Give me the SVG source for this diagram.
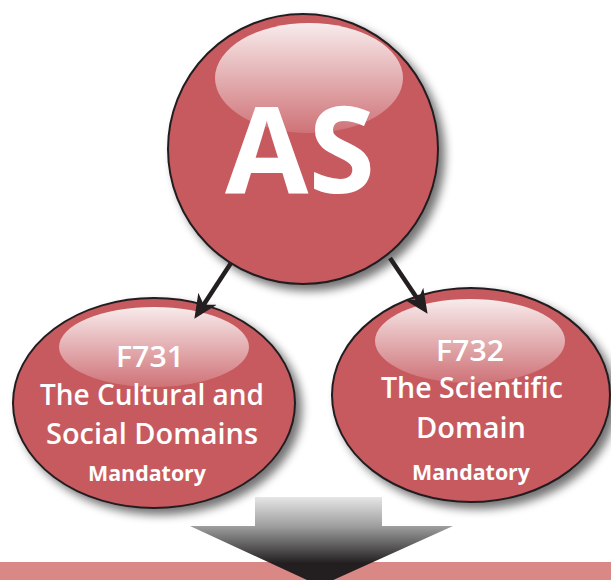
<svg xmlns="http://www.w3.org/2000/svg" width="611" height="580" viewBox="0 0 611 580">
  <defs>
    <filter id="shadow" x="-20%" y="-20%" width="150%" height="150%">
      <feGaussianBlur in="SourceAlpha" stdDeviation="5"/>
      <feOffset dx="6" dy="6" result="b"/>
      <feComponentTransfer><feFuncA type="linear" slope="0.55"/></feComponentTransfer>
      <feMerge><feMergeNode/><feMergeNode in="SourceGraphic"/></feMerge>
    </filter>
    <linearGradient id="gloss" x1="0" y1="0" x2="0" y2="1">
      <stop offset="0" stop-color="#ffffff" stop-opacity="0.88"/>
      <stop offset="1" stop-color="#ffffff" stop-opacity="0.15"/>
    </linearGradient>
    <linearGradient id="bigArrow" gradientUnits="userSpaceOnUse" x1="0" y1="497" x2="0" y2="575">
      <stop offset="0" stop-color="#e6e6e6"/>
      <stop offset="0.38" stop-color="#9d9d9d"/>
      <stop offset="0.85" stop-color="#231f20"/>
      <stop offset="1" stop-color="#231f20"/>
    </linearGradient>
    <marker id="arrow" viewBox="0 -12 25 24" refX="11" refY="0" markerWidth="25" markerHeight="24" markerUnits="userSpaceOnUse" orient="auto">
      <path d="M24,0 L0,-11 L7,0 L0,11 Z" fill="#231f20"/>
    </marker>
    <style>
      .ball { fill: #c65a5f; stroke: #231f20; stroke-width: 2; }
      .gloss { fill: url(#gloss); }
      .t { font-family: "Open Sans", "Liberation Sans", sans-serif; fill: #ffffff; text-anchor: middle; }
      .big { font-size: 28.5px; font-weight: 600; }
      .small { font-size: 21px; font-weight: 700; }
      .conn { stroke: #231f20; stroke-width: 4.5; fill: none; }
    </style>
  </defs>

  <g id="node-as">
    <circle class="ball" cx="303" cy="149" r="135" filter="url(#shadow)"/>
    <ellipse class="gloss" cx="309" cy="78" rx="94" ry="55"/>
    <text class="t" x="300" y="193" font-size="120" font-weight="700" textLength="150" lengthAdjust="spacingAndGlyphs">AS</text>
  </g>

  <g id="node-f731">
    <ellipse class="ball" cx="154" cy="403" rx="141" ry="105" filter="url(#shadow)"/>
    <ellipse class="gloss" cx="154" cy="347" rx="95" ry="40"/>
    <text class="t big" x="150" y="367" textLength="68" lengthAdjust="spacingAndGlyphs">F731</text>
    <text class="t big" x="152" y="405" textLength="224" lengthAdjust="spacingAndGlyphs">The Cultural and</text>
    <text class="t big" x="152" y="444" textLength="212" lengthAdjust="spacingAndGlyphs">Social Domains</text>
    <text class="t small" x="147" y="481" textLength="118" lengthAdjust="spacingAndGlyphs">Mandatory</text>
  </g>

  <g id="node-f732">
    <ellipse class="ball" cx="471" cy="395" rx="139" ry="107" filter="url(#shadow)"/>
    <ellipse class="gloss" cx="470" cy="341" rx="95" ry="42"/>
    <text class="t big" x="470" y="361" textLength="68" lengthAdjust="spacingAndGlyphs">F732</text>
    <text class="t big" x="472" y="398" textLength="182" lengthAdjust="spacingAndGlyphs">The Scientific</text>
    <text class="t big" x="471" y="438" textLength="110" lengthAdjust="spacingAndGlyphs">Domain</text>
    <text class="t small" x="471" y="480" textLength="118" lengthAdjust="spacingAndGlyphs">Mandatory</text>
  </g>

  <g id="connectors">
    <line class="conn" x1="231" y1="263" x2="201.5" y2="308" marker-end="url(#arrow)"/>
    <line class="conn" x1="390" y1="258" x2="420.3" y2="303" marker-end="url(#arrow)"/>
  </g>

  <g id="band">
    <rect x="0" y="562" width="611" height="18" fill="#d98886"/>
  </g>

  <g id="big-arrow">
    <path d="M255,497 L382,497 L382,526 L453,526 L320,586 L190,526 L255,526 Z" fill="url(#bigArrow)"/>
  </g>
</svg>
